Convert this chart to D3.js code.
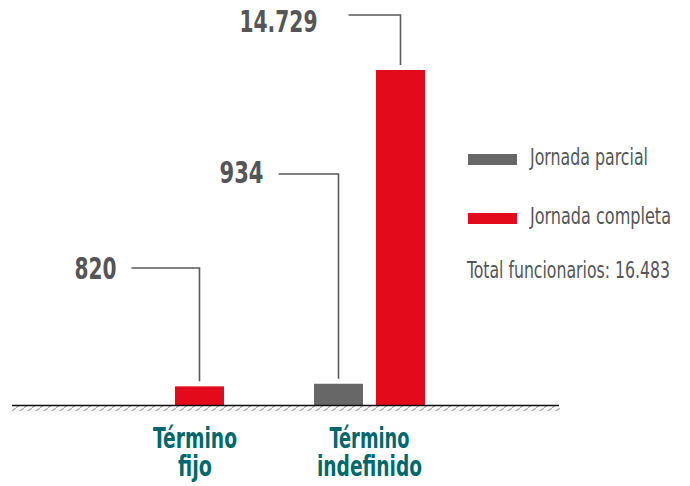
<html>
<head>
<meta charset="utf-8">
<script src="https://d3js.org/d3.v7.min.js"></script>
<style>
    body { margin: 0; background: #fff; }
    text { font-family: "Liberation Sans Narrow", "DejaVu Sans Condensed", "Roboto", sans-serif; }
</style>
</head>
<body>
<svg width="690" height="486"></svg>
<script>
    // data
    var categories = ["Término fijo", "Término indefinido"];
    var categoryLines = [["Término", "fijo"], ["Término", "indefinido"]];
    var series = ["Jornada parcial", "Jornada completa"];
    var parcial = [0, 934];
    var completa = [820, 14729];
    var totalFuncionarios = 16483;
    var colors = ["#676767", "#e30a1c"];

    var fmt = d3.formatLocale({ decimal: ",", thousands: ".", grouping: [3], currency: ["", ""] }).format(",d");

    var svg = d3.select("svg");
    var baseY = 405;

    var x0 = d3.scaleBand().domain(categories).range([68, 470]).paddingInner(0.4478).paddingOuter(0.2239);
    var x1 = d3.scaleBand().domain(series).range([0, x0.bandwidth()]).paddingInner(0.2097).paddingOuter(0);
    var y = d3.scaleLinear().domain([0, d3.max(completa)]).range([baseY, 70]);

    var rows = [];
    categories.forEach(function (c, i) {
        rows.push({ cat: c, ser: series[0], v: parcial[i], ci: 0 });
        rows.push({ cat: c, ser: series[1], v: completa[i], ci: 1 });
    });

    // hatched ground
    var defs = svg.append("defs");
    defs.append("pattern").attr("id", "hatch").attr("patternUnits", "userSpaceOnUse")
        .attr("width", 8).attr("height", 6)
        .append("path").attr("d", "M-1,6.5 L8,0 M7,7 L9,5.5")
        .attr("stroke", "#a8a8a8").attr("stroke-width", 1.3).attr("fill", "none");
    svg.append("rect").attr("x", 12).attr("y", baseY + 1).attr("width", 548).attr("height", 5)
        .attr("fill", "url(#hatch)");

    // bars
    svg.append("g").selectAll("rect").data(rows).enter().append("rect")
        .attr("x", function (d) { return x0(d.cat) + x1(d.ser); })
        .attr("y", function (d) { return y(d.v); })
        .attr("width", x1.bandwidth())
        .attr("height", function (d) { return baseY - y(d.v); })
        .attr("fill", function (d) { return colors[d.ci]; });

    svg.append("line").attr("x1", 12).attr("x2", 559).attr("y1", baseY + 0.5).attr("y2", baseY + 0.5)
        .attr("stroke", "#111").attr("stroke-width", 1.6);

    // value labels with leader lines
    var labelled = rows.filter(function (d) { return d.v > 0; });
    var lineY = [268, 174, 15];
    var lineLen = [68, 60, 52];
    var textGap = [15, 15, 31];
    var textBase = [279, 183, 32];
    var textW = [42, 44, 78];

    var ann = svg.append("g");
    labelled.forEach(function (d, i) {
        var cx = x0(d.cat) + x1(d.ser) + x1.bandwidth() / 2;
        var top = y(d.v) - 5;
        ann.append("path")
            .attr("d", "M" + (cx - lineLen[i]) + "," + lineY[i] + " H" + cx + " V" + top)
            .attr("fill", "none").attr("stroke", "#5a5a5a").attr("stroke-width", 1.6);
        ann.append("text")
            .attr("x", cx - lineLen[i] - textGap[i])
            .attr("y", textBase[i])
            .attr("text-anchor", "end")
            .attr("font-size", 31).attr("font-weight", "bold").attr("fill", "#555557")
            .attr("textLength", textW[i]).attr("lengthAdjust", "spacingAndGlyphs")
            .text(fmt(d.v));
    });

    // category labels
    var catW = [[84, 34], [80, 105]];
    categories.forEach(function (c, i) {
        var cx = x0(c) + x0.bandwidth() / 2;
        var cx2 = i === 0 ? 195 : cx;
        categoryLines[i].forEach(function (t, j) {
            svg.append("text")
                .attr("x", cx2).attr("y", 448 + j * 28)
                .attr("text-anchor", "middle")
                .attr("font-size", 28).attr("font-weight", "bold").attr("fill", "#00686c")
                .attr("textLength", catW[i][j]).attr("lengthAdjust", "spacingAndGlyphs")
                .text(t);
        });
    });

    // legend
    var legBase = [165, 224];
    var legW = [118, 141];
    var leg = svg.append("g");
    series.forEach(function (s, i) {
        leg.append("rect").attr("x", 468).attr("y", legBase[i] - 11).attr("width", 49).attr("height", 11)
            .attr("fill", colors[i]);
        leg.append("text").attr("x", 530).attr("y", legBase[i])
            .attr("font-size", 23).attr("fill", "#555557")
            .attr("textLength", legW[i]).attr("lengthAdjust", "spacingAndGlyphs")
            .text(s);
    });
    leg.append("text").attr("x", 467).attr("y", 278)
        .attr("font-size", 23).attr("fill", "#555557")
        .attr("textLength", 203).attr("lengthAdjust", "spacingAndGlyphs")
        .text("Total funcionarios: " + fmt(totalFuncionarios));
</script>
</body>
</html>
